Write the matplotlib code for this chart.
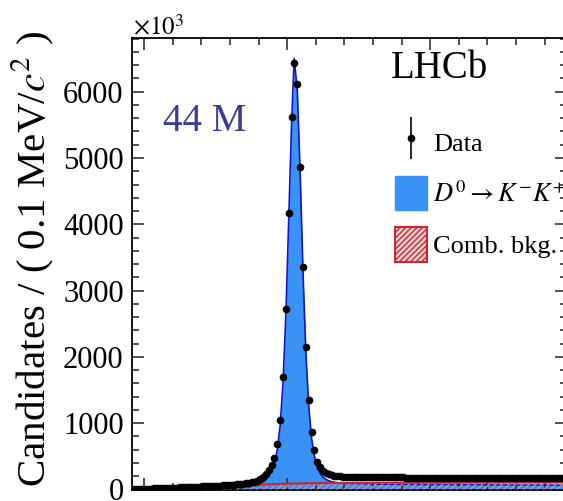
import numpy as np
import matplotlib
matplotlib.use("Agg")
import matplotlib.pyplot as plt
from matplotlib.patches import Patch
from matplotlib.ticker import MultipleLocator
from matplotlib.legend_handler import HandlerErrorbar

# delta-m spectrum, 0.1 MeV bins from 139.6 MeV, counts in units of 10^3
first_bin_centre = 139.65
bin_width = 0.1
counts = [
    3, 5, 7, 9, 11, 13, 14, 16, 18, 20,
    21, 23, 25, 26, 28, 30, 32, 34, 35, 37,
    39, 41, 42, 44, 46, 48, 50, 52, 54, 56,
    58, 61, 63, 66, 69, 72, 76, 80, 85, 91,
    98, 107, 119, 134, 155, 185, 228, 290, 370, 470,
    682, 1048, 1692, 2718, 4166, 5614, 6437, 6112, 4869, 3362,
    2154, 1350, 863, 596, 419, 340, 282, 250, 230, 216,
    207, 201, 197, 194, 192, 190, 189, 188, 187, 186,
    186, 185, 185, 184, 184, 183, 183, 183, 182, 182,
    182, 181, 181, 181, 181, 180, 180, 180, 180, 179,
    179, 179, 179, 178, 178, 178, 178, 178, 177, 177,
    177, 177, 177, 176, 176, 176, 176, 176, 175, 175,
    175, 175, 175, 175, 174, 174, 174, 174, 174, 174,
    173, 173, 173, 173, 173, 173, 173, 172, 172, 172,
    172, 172, 172, 172, 171, 171, 171, 171, 171, 171,
    171, 171,
]

# combinatorial background from the fit
bkg_mass = [139.57, 139.8, 140.0, 140.5, 141.0, 141.5, 142.0, 142.5, 143.0,
            143.5, 144.0, 144.5, 145.0, 145.5, 146.0, 146.5, 147.0, 148.0,
            149.0, 150.0, 151.0, 152.0, 153.0, 154.0, 154.8]
bkg_yield = [0, 5, 8, 13, 19, 25, 32, 40, 49,
             59, 70, 80, 88, 93, 96, 98, 99, 101,
             102, 103, 104, 105, 106, 106, 107]

# D0 -> K- K+ signal from the fit
sig_mass = [139.57, 140.0, 140.5, 141.0, 141.5, 142.0, 142.5, 143.0, 143.5,
            143.75, 144.0, 144.1, 144.2, 144.3, 144.35, 144.45, 144.55, 144.65,
            144.75, 144.85, 144.95, 145.05, 145.15, 145.24, 145.35, 145.45,
            145.55, 145.65, 145.75, 145.85, 145.95, 146.05, 146.15, 146.25,
            146.35, 146.45, 146.55, 146.75, 147.0, 147.5, 148.0, 149.0, 150.0,
            151.0, 152.0, 153.0, 154.0, 154.8]
sig_yield = [0, 1, 3, 7, 10, 14, 17, 20, 31,
             45, 80, 98, 125, 170, 213, 290, 389, 599,
             964, 1606, 2631, 4078, 5525, 6500, 6021, 4777,
             3269, 2060, 1256, 768, 501, 323, 244, 183,
             153, 132, 117, 102, 92, 87, 81, 78, 74,
             72, 70, 68, 67, 65]

plt.rcParams["font.family"] = ["Liberation Serif", "DejaVu Serif"]
plt.rcParams["mathtext.fontset"] = "stix"
plt.rcParams["hatch.linewidth"] = 1.0

blue = "#3992f5"
red = "#c8282e"

W, H = 563, 501
fig = plt.figure(figsize=(W / 100, H / 100), dpi=100)
ax = fig.add_axes([132 / W, 11.5 / H, 435 / W, 451.5 / H])

centres = first_bin_centre + bin_width * np.arange(len(counts))
counts = np.array(counts, dtype=float)

ax.fill_between(sig_mass, 0, sig_yield, color=blue, lw=0, zorder=1)
ax.plot(sig_mass, sig_yield, color="#1515c8", lw=1.2, zorder=2)
ax.fill_between(bkg_mass, 0, bkg_yield, facecolor="none", edgecolor="#e08a8a",
                hatch="/////", lw=0, zorder=3)
ax.plot(bkg_mass, bkg_yield, color=red, lw=1.5, zorder=4)
data = ax.errorbar(centres, counts, yerr=np.sqrt(counts * 1e3) / 1e3, fmt="o",
                   color="black", ms=4.5, elinewidth=1.2, capsize=0, zorder=5)

ax.set_xlim(139.57, 154.78)
ax.set_ylim(0, 6810)
ax.xaxis.set_major_locator(MultipleLocator(5))
ax.xaxis.set_minor_locator(MultipleLocator(1))
ax.yaxis.set_major_locator(MultipleLocator(1000))
ax.yaxis.set_minor_locator(MultipleLocator(200))
ax.tick_params(which="both", direction="in", top=True, right=True,
               labelbottom=False, color="#333333")
ax.tick_params(which="major", length=8.6, width=1.2, labelsize=22, pad=6)
ax.tick_params(which="minor", length=5, width=1.2)
for s in ax.spines.values():
    s.set_linewidth(1.3)

fig.text(133 / W, 1 - 35 / H, r"$\times10^{3}$", fontsize=18, va="baseline")
fig.text(33 / W, 1 - 31 / H, r"Candidates / ( 0.1 MeV/$c^{2}$ )",
         rotation=90, ha="center", va="top", fontsize=29.5)
fig.text(163 / W, 1 - 131 / H, "44 M", color="#3c3c96", fontsize=28,
         va="baseline")
fig.text(391 / W, 1 - 78 / H, "LHCb", fontsize=28, va="baseline")

handles = [data,
           Patch(facecolor=blue, edgecolor=blue),
           Patch(facecolor="#f4d0d0", edgecolor=red, hatch="//////", lw=1.5)]
labels = ["Data", r"$D^0 \rightarrow K^{-}K^{+}$", "Comb. bkg."]
fig.legend(handles, labels, loc="upper left",
           bbox_to_anchor=(395 / W, 1 - 125 / H), frameon=False,
           fontsize=19, borderpad=0, borderaxespad=0, handlelength=1.2,
           handleheight=1.62, handletextpad=0.25, labelspacing=0.64,
           handler_map={type(data): HandlerErrorbar(yerr_size=0.8)})

fig.savefig("out.png", dpi=100)
